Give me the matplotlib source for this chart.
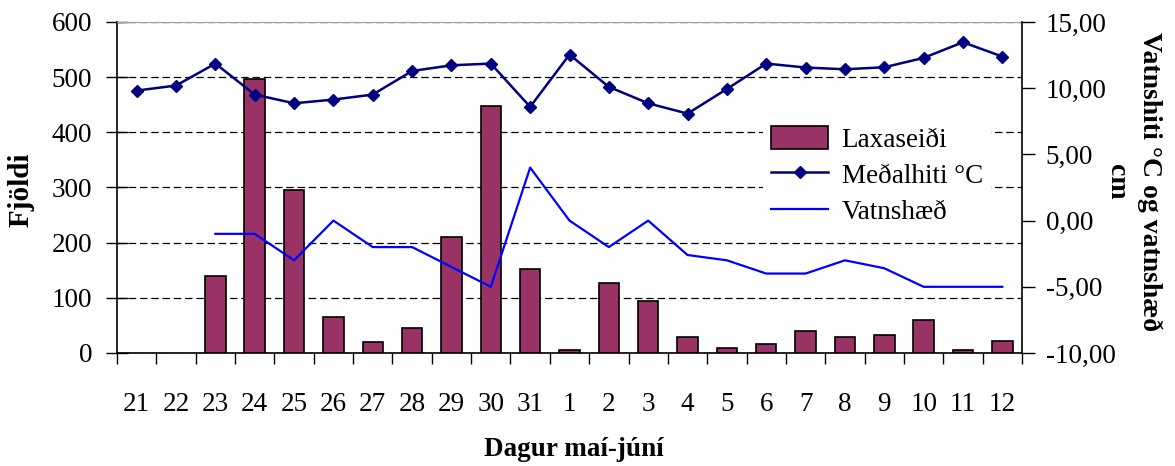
import numpy as np
import matplotlib
matplotlib.use("Agg")
import matplotlib.pyplot as plt
from matplotlib.ticker import FixedLocator, FuncFormatter

plt.rcParams['font.family'] = ['Liberation Serif', 'DejaVu Serif']

days = ['21', '22', '23', '24', '25', '26', '27', '28', '29', '30', '31',
        '1', '2', '3', '4', '5', '6', '7', '8', '9', '10', '11', '12']
laxaseidi = [0, 0, 140, 497, 295, 65, 20, 45, 211, 448, 152,
             6, 126, 94, 29, 9, 17, 39, 29, 33, 59, 6, 22]
medalhiti = [9.82, 10.2, 11.86, 9.52, 8.86, 9.14, 9.52, 11.3, 11.73, 11.86, 8.59,
             12.54, 10.1, 8.86, 8.08, 9.94, 11.86, 11.56, 11.43, 11.58, 12.29, 13.47, 12.39]
vatnshaed = [np.nan, np.nan, -1.0, -1.0, -3.0, 0.0, -2.0, -2.0, -3.5, -5.0, 4.0,
             0.0, -2.0, 0.0, -2.6, -3.0, -4.0, -4.0, -3.0, -3.6, -5.0, -5.0, -5.0]

FS = 19.5
x = np.arange(len(days))

fig = plt.figure(figsize=(11.75, 4.66), dpi=100)
ax = fig.add_axes([117/1175, 1-353/466, (1022-117)/1175, (353-22)/466])
ax2 = ax.twinx()

bars = ax.bar(x, laxaseidi, width=0.52, color='#993366', edgecolor='black',
              linewidth=1.2, label='Laxaseiði', zorder=3)
# empty days show no outline
for b, v in zip(bars, laxaseidi):
    if v == 0:
        b.set_linewidth(0)
ax.set_xlim(-0.5, len(days) - 0.5)
ax.set_ylim(0, 600)
ax.set_yticks(range(0, 601, 100))
ax.set_axisbelow(True)
ax.yaxis.grid(True, color='black', linestyle=(0, (6, 3)), linewidth=0.9)
ax.tick_params(axis='y', direction='inout', length=16, width=1, labelsize=FS, pad=10)

# ticks between categories, labels in the middle
ax.xaxis.set_major_locator(FixedLocator(np.arange(-0.5, len(days), 1)))
ax.xaxis.set_minor_locator(FixedLocator(x))
ax.tick_params(axis='x', which='major', direction='out', length=8, width=1, labelbottom=False)
ax.tick_params(axis='x', which='minor', length=0, labelsize=FS, pad=28)
ax.set_xticklabels(days, minor=True)

ax.spines['top'].set_color('#a0a0a0')
ax.spines['right'].set_visible(False)
for s in ['left', 'bottom']:
    ax.spines[s].set_linewidth(1.2)

l1, = ax2.plot(x, medalhiti, color='#000080', marker='D', markersize=6,
               linewidth=1.8, label='Meðalhiti °C')
l2, = ax2.plot(x, vatnshaed, color='#0000FF', linewidth=1.6, label='Vatnshæð')
ax2.set_ylim(-10, 15)
ax2.set_yticks(range(-10, 16, 5))
ax2.yaxis.set_major_formatter(FuncFormatter(lambda v, p: f"{v:.2f}".replace('.', ',')))
ax2.tick_params(axis='y', direction='out', length=9, width=1, labelsize=FS, pad=8)
ax2.spines['right'].set_linewidth(1.2)
for s in ['top', 'left', 'bottom']:
    ax2.spines[s].set_visible(False)

leg = ax2.legend(handles=[bars, l1, l2], loc='upper left',
                 bbox_to_anchor=(763/1175, 1-118/466), bbox_transform=fig.transFigure,
                 frameon=True, fancybox=False, edgecolor='none', facecolor='white',
                 framealpha=1, fontsize=FS, handlelength=2.1, handleheight=0.9,
                 handletextpad=0.5, labelspacing=0.35, borderpad=0.3, borderaxespad=0)
leg.legend_handles[0].set_linewidth(1.2)

fig.text(21/1175, 1-190/466, 'Fjöldi', rotation=90, ha='center', va='center',
         fontsize=21, fontweight='bold')
fig.text(574/1175, 1-450/466, 'Dagur maí-júní', ha='center', va='center',
         fontsize=FS, fontweight='bold')
fig.text(1133/1175, 1-182/466, 'Vatnshiti °C og vatnshæð\ncm', rotation=270,
         ha='center', va='center', multialignment='center', linespacing=1.4,
         fontsize=20, fontweight='bold')

fig.savefig('out.png', dpi=100)
